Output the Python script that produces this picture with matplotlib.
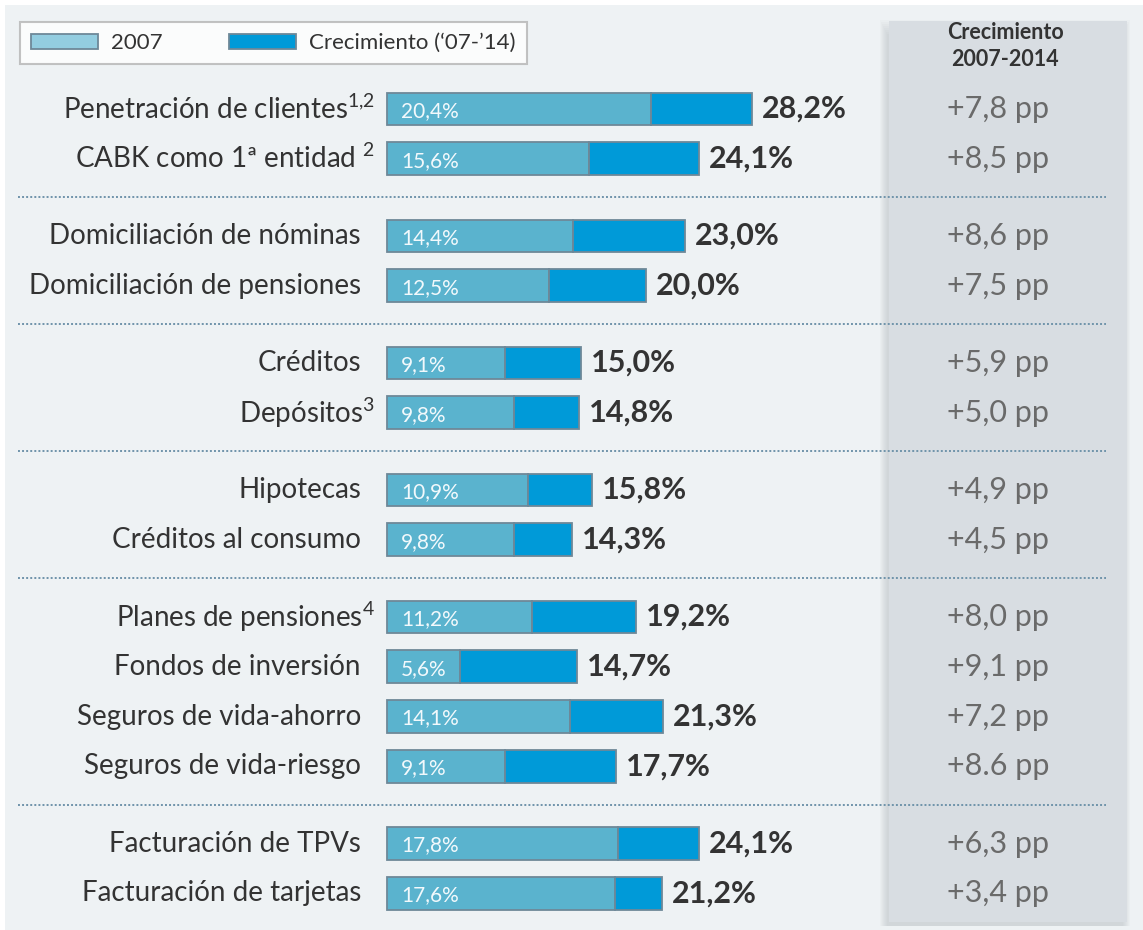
import matplotlib
matplotlib.use("Agg")
import matplotlib.pyplot as plt
import matplotlib.patches as mpatches

plt.rcParams['font.family'] = ['Lato', 'DejaVu Sans']
plt.rcParams['mathtext.fontset'] = 'custom'
plt.rcParams['mathtext.rm'] = 'Lato'
plt.rcParams['mathtext.it'] = 'Lato'
plt.rcParams['mathtext.bf'] = 'Lato:bold'

# datos
categorias = ["Penetración de clientes$^{1{,}2}$", "CABK como 1ª entidad $^{2}$",
              "Domiciliación de nóminas", "Domiciliación de pensiones",
              "Créditos", "Depósitos$^{3}$",
              "Hipotecas", "Créditos al consumo",
              "Planes de pensiones$^{4}$", "Fondos de inversión",
              "Seguros de vida-ahorro", "Seguros de vida-riesgo",
              "Facturación de TPVs", "Facturación de tarjetas"]
grupo = [0, 0, 1, 1, 2, 2, 3, 3, 4, 4, 4, 4, 5, 5]
cuota_2007 = [20.4, 15.6, 14.4, 12.5, 9.1, 9.8, 10.9, 9.8, 11.2, 5.6, 14.1, 9.1, 17.8, 17.6]
cuota_2014 = [28.2, 24.1, 23.0, 20.0, 15.0, 14.8, 15.8, 14.3, 19.2, 14.7, 21.3, 17.7, 24.1, 21.2]
crecimiento_txt = ["+7,8 pp", "+8,5 pp", "+8,6 pp", "+7,5 pp", "+5,9 pp", "+5,0 pp",
                   "+4,9 pp", "+4,5 pp", "+8,0 pp", "+9,1 pp", "+7,2 pp", "+8.6 pp",
                   "+6,3 pp", "+3,4 pp"]

c2007 = "#5ab3ce"
c2007_leg = "#93cde0"
ccrec = "#009ad8"
cborde = "#6e8898"
ctexto = "#333333"

W, H = 1143, 930
fig = plt.figure(figsize=(W / 100, H / 100), dpi=100)
fig.patch.set_facecolor("white")

# escala: 0% en x=387px, 12.95 px por punto; fila 0 en y=109px, 49.8 px por fila
px_x, x0 = 12.95, 387
px_y, y0 = 49.8, 109
ax = fig.add_axes([0, 0, 1, 1])
ax.set_xlim(-x0 / px_x, (W - x0) / px_x)
ax.set_ylim((H - y0) / px_y, -y0 / px_y)
ax.axis("off")

# fondos
fig.patches.append(mpatches.Rectangle((5 / W, 0), 1 - 5 / W, 1 - 5 / H, transform=fig.transFigure,
                                      facecolor="#eef2f4", edgecolor="none", zorder=-5))
for k in range(8):
    fig.patches.append(mpatches.Rectangle(((880 + k) / W, 1 - 926 / H), (250 - 2 * k) / W, (906 - 2 * k) / H,
                                          transform=fig.transFigure, facecolor="#aab2b8",
                                          alpha=0.06, edgecolor="none", zorder=-4))
fig.patches.append(mpatches.Rectangle((889 / W, 1 - 922 / H), 238 / W, 901 / H, transform=fig.transFigure,
                                      facecolor="#d8dde2", edgecolor="none", zorder=-3))

ypos = [i + 0.55 * g for i, g in enumerate(grupo)]
crec = [b - a for a, b in zip(cuota_2007, cuota_2014)]

ax.barh(ypos, cuota_2007, height=0.66, color=c2007, edgecolor=cborde, linewidth=1.3, zorder=3)
ax.barh(ypos, crec, left=cuota_2007, height=0.66, color=ccrec, edgecolor=cborde, linewidth=1.3, zorder=3)

for i, y in enumerate(ypos):
    sup = "$" in categorias[i]
    ax.text(-(x0 - (375 if sup else 361)) / px_x, y, categorias[i], ha="right", va="center",
            fontsize=20, color=ctexto)
    ax.text(14 / px_x, y + 0.04, f"{cuota_2007[i]:.1f}%".replace(".", ","), ha="left", va="center",
            fontsize=15, color="#f2f9fc")
    ax.text(cuota_2014[i] + 10 / px_x, y, f"{cuota_2014[i]:.1f}%".replace(".", ","), ha="left",
            va="center", fontsize=22, fontweight="bold", color=ctexto)
    ax.text((998 - x0) / px_x, y, crecimiento_txt[i], ha="center", va="center", fontsize=22,
            color="#6a6a6a")

ax.text((1005 - x0) / px_x, (46 - y0) / px_y, "Crecimiento\n2007-2014", ha="center", va="center",
        fontsize=15.5, fontweight="bold", color=ctexto, linespacing=1.35)

# separadores punteados
for g in range(1, max(grupo) + 1):
    a = max(y for y, gg in zip(ypos, grupo) if gg == g - 1)
    b = min(y for y, gg in zip(ypos, grupo) if gg == g)
    ax.plot([(18 - x0) / px_x, (1106 - x0) / px_x], [(a + b) / 2] * 2, color="#6f93aa",
            linestyle=(0, (1, 1.1)), linewidth=1.4, zorder=2)

handles = [mpatches.Patch(facecolor=c2007_leg, edgecolor=cborde, linewidth=1.3, label="2007"),
           mpatches.Patch(facecolor=ccrec, edgecolor=cborde, linewidth=1.3, label="Crecimiento (‘07-’14)")]
leg = ax.legend(handles=handles, ncol=2, loc="upper left", bbox_to_anchor=(20 / W, 1 - 22 / H),
                bbox_transform=fig.transFigure, frameon=True, fancybox=False, fontsize=16,
                handlelength=3.0, handleheight=0.65, handletextpad=0.6, columnspacing=3.0,
                borderpad=0.5, borderaxespad=0)
leg.get_frame().set_edgecolor("#b4b4b4")
leg.get_frame().set_linewidth(1.5)
for t in leg.get_texts():
    t.set_color(ctexto)

fig.savefig("out.png", dpi=100, facecolor=fig.get_facecolor())
